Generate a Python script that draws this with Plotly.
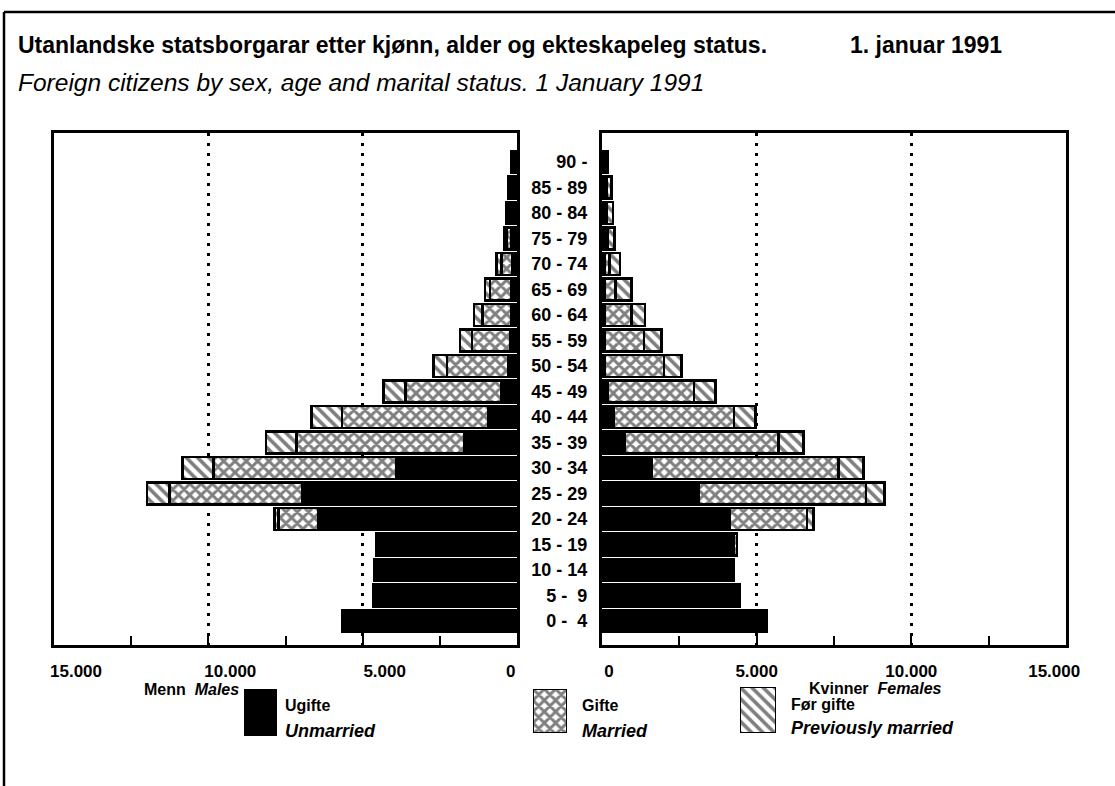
import plotly.graph_objects as go

# ---------------- data ----------------
ages = ["0 - \u00a04", "5 - \u00a09", "10 - 14", "15 - 19", "20 - 24", "25 - 29", "30 - 34",
        "35 - 39", "40 - 44", "45 - 49", "50 - 54", "55 - 59", "60 - 64", "65 - 69",
        "70 - 74", "75 - 79", "80 - 84", "85 - 89", "90 -"]

men_unmarried = [5650, 4650, 4620, 4560, 6430, 6950, 3900, 1720, 930, 500,
                 290, 210, 190, 180, 170, 200, 210, 200, 150]
men_married = [0, 0, 0, 0, 1300, 4310, 5930, 5430, 4740, 3110,
               1970, 1240, 920, 700, 330, 130, 80, 50, 20]
men_prev = [0, 0, 0, 0, 130, 720, 1010, 990, 980, 720,
            450, 400, 280, 155, 160, 80, 60, 30, 10]

women_unmarried = [5330, 4450, 4260, 4250, 4130, 3130, 1600, 740, 390, 200,
                   100, 100, 100, 100, 100, 100, 120, 120, 100]
women_married = [0, 0, 0, 110, 2490, 5410, 6040, 4970, 3870, 2770,
                 1900, 1260, 860, 340, 150, 80, 40, 20, 10]
women_prev = [0, 0, 0, 0, 220, 590, 810, 810, 700, 700,
              570, 570, 430, 520, 330, 230, 200, 160, 60]

x_tickvals = [0, 5000, 10000, 15000]
NB = "\u00a0"
left_ticktext = ["0" + NB * 12, "5.000", "10.000", "15.000"]
right_ticktext = [NB * 3 + "0", "5.000", "10.000", "15.000" + NB * 5]

series_names = ["Ugifte", "Gifte", "Før gifte"]
series_names_en = ["Unmarried", "Married", "Previously married"]

# ---------------- styling ----------------
W, H = 1115, 786
FONT = "Liberation Sans, Arial, Helvetica, sans-serif"


def px(x):
    return x / W


def py(y):
    return 1 - y / H


styles = [
    dict(color="black"),
    dict(color="white", pattern=dict(shape="x", fgcolor="black", bgcolor="white",
                                     size=8, solidity=0.6)),
    dict(color="white", pattern=dict(shape="\\", fgcolor="black", bgcolor="white",
                                     size=8, solidity=0.45)),
]
LINE = dict(color="black", width=2.5)

fig = go.Figure()

for vals, st in zip([men_unmarried, men_married, men_prev], styles):
    fig.add_trace(go.Bar(y=ages, x=vals, orientation="h", xaxis="x", yaxis="y2",
                         marker=dict(**st, line=LINE), showlegend=False,
                         hoverinfo="skip"))
for vals, st in zip([women_unmarried, women_married, women_prev], styles):
    fig.add_trace(go.Bar(y=ages, x=vals, orientation="h", xaxis="x2", yaxis="y",
                         marker=dict(**st, line=LINE), showlegend=False,
                         hoverinfo="skip"))

# legend swatches (mini axes)
sw_boxes = [(244, 277, 689, 736), (533, 567, 689, 733), (740, 776, 687, 733)]
for i, (st, box) in enumerate(zip(styles, sw_boxes)):
    k = i + 3
    fig.add_trace(go.Bar(x=[0], y=[1], width=[1], xaxis=f"x{k}", yaxis=f"y{k}",
                         marker=dict(**st, line=LINE), showlegend=False,
                         hoverinfo="skip"))
    x0, x1, y0, y1 = box
    fig.update_layout(**{
        f"xaxis{k}": dict(domain=[px(x0), px(x1)], range=[-0.5, 0.5], visible=False,
                          anchor=f"y{k}", fixedrange=True, automargin=False),
        f"yaxis{k}": dict(domain=[py(y1), py(y0)], range=[0, 1], visible=False,
                          anchor=f"x{k}", fixedrange=True, automargin=False),
    })

PLOT_TOP, PLOT_BOT = 133, 645
ydom = [py(PLOT_BOT), py(PLOT_TOP)]
yrange = [-0.94, 19.14]

common_x = dict(
    tickmode="array", tickvals=x_tickvals, ticks="inside", ticklen=9, tickwidth=2,
    tickcolor="black",
    minor=dict(tickvals=[2500, 7500, 12500], ticks="inside", ticklen=9, tickwidth=2,
               tickcolor="black", showgrid=False),
    showgrid=True, gridcolor="black", griddash="3px,7px", gridwidth=3,
    showline=True, linecolor="black", linewidth=3, mirror=True, zeroline=False,
    tickfont=dict(family=FONT, size=17, color="black", weight="bold"),
    ticklabelstandoff=9, fixedrange=True, automargin=False,
)

fig.update_layout(
    width=W, height=H, autosize=False,
    margin=dict(l=0, r=0, t=0, b=0, autoexpand=False),
    paper_bgcolor="white", plot_bgcolor="white",
    barmode="stack", bargap=0.13,
    showlegend=False,
    xaxis=dict(domain=[px(54), px(517)], range=[15000, 0], anchor="y2",
               ticktext=left_ticktext, ticklabelshift=-22, **common_x),
    xaxis2=dict(domain=[px(602), px(1066)], range=[0, 15000], anchor="y",
                ticktext=right_ticktext, **common_x),
    yaxis=dict(domain=ydom, range=yrange, anchor="x2", side="left",
               type="category", categoryorder="array", categoryarray=ages,
               ticks="", showgrid=False, zeroline=False,
               showline=True, linecolor="black", linewidth=3, mirror=True,
               tickfont=dict(family=FONT, size=18, color="black", weight="bold"),
               ticklabelstandoff=8, fixedrange=True, automargin=False),
    yaxis2=dict(domain=ydom, range=yrange, anchor="x", matches="y",
                type="category", categoryorder="array", categoryarray=ages,
                showticklabels=False, ticks="", showgrid=False, zeroline=False,
                showline=True, linecolor="black", linewidth=3, mirror=True,
                fixedrange=True, automargin=False),
)

annotations = [
    dict(x=px(16), y=py(45), xanchor="left", yanchor="middle",
         text="<b>Utanlandske statsborgarar etter kjønn, alder og ekteskapeleg status.</b>",
         font=dict(family=FONT, size=23, color="black")),
    dict(x=px(848), y=py(45), xanchor="left", yanchor="middle",
         text="<b>1. januar 1991</b>",
         font=dict(family=FONT, size=23, color="black")),
    dict(x=px(16), y=py(83), xanchor="left", yanchor="middle",
         text="<i>Foreign citizens by sex, age and marital status. 1 January 1991</i>",
         font=dict(family=FONT, size=24.5, color="black")),
    dict(x=px(191), y=py(689), xanchor="center", yanchor="middle",
         text="Menn " + NB + "<i>Males</i>",
         font=dict(family=FONT, size=16, color="black", weight="bold")),
    dict(x=px(875), y=py(688), xanchor="center", yanchor="middle",
         text="Kvinner " + NB + "<i>Females</i>",
         font=dict(family=FONT, size=16, color="black", weight="bold")),
]
leg_text_pos = [(283, 705, 731), (580, 705, 731), (789, 704, 728)]
for (x, y1, y2), no, en in zip(leg_text_pos, series_names, series_names_en):
    annotations.append(dict(x=px(x), y=py(y1), xanchor="left", yanchor="middle",
                            text=no, font=dict(family=FONT, size=16, color="black",
                                               weight="bold")))
    annotations.append(dict(x=px(x), y=py(y2), xanchor="left", yanchor="middle",
                            text=f"<i>{en}</i>",
                            font=dict(family=FONT, size=18, color="black",
                                      weight="bold")))
for a in annotations:
    a.update(xref="paper", yref="paper", showarrow=False)
fig.update_layout(annotations=annotations)

# outer frame (top and left edges)
fig.update_layout(shapes=[
    dict(type="line", xref="paper", yref="paper", x0=px(4), x1=1, y0=py(12), y1=py(12),
         line=dict(color="black", width=2.5)),
    dict(type="line", xref="paper", yref="paper", x0=px(4), x1=px(4), y0=py(12), y1=0,
         line=dict(color="black", width=2.5)),
])

fig.write_html("out.html", config={"displayModeBar": False},
               post_script="document.body.style.margin='0';")
